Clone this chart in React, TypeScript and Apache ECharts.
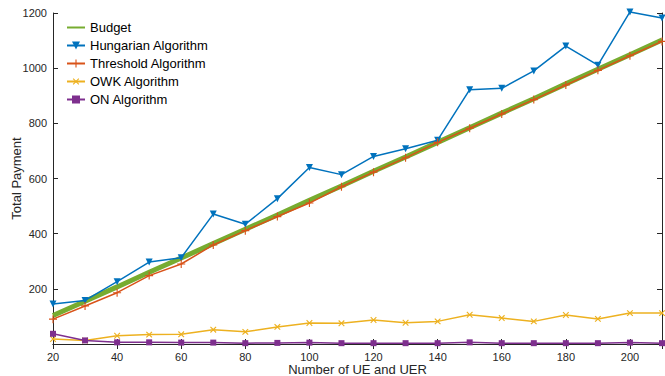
import React, { useEffect, useRef } from "react";
import * as echarts from "echarts";

const xValues = [20, 30, 40, 50, 60, 70, 80, 90, 100, 110, 120, 130, 140, 150, 160, 170, 180, 190, 200, 210];
const budget = [103, 155, 207, 260, 312, 364, 416, 468, 521, 573, 626, 678, 731, 784, 837, 889, 943, 996, 1049, 1102];
const hungarian = [145, 158, 226, 297, 313, 471, 434, 527, 640, 614, 680, 708, 739, 922, 927, 990, 1080, 1011, 1204, 1182];
const threshold = [90, 138, 186, 248, 290, 359, 411, 462, 511, 570, 623, 675, 731, 782, 834, 886, 939, 992, 1045, 1097];
const owk = [18, 13, 30, 34, 35, 52, 44, 62, 76, 75, 87, 77, 82, 106, 94, 82, 105, 91, 112, 112];
const on = [37, 13, 6, 6, 5, 5, 3, 4, 5, 3, 3, 3, 3, 6, 3, 3, 3, 3, 5, 3];

const seriesNames = ["Budget", "Hungarian Algorithm", "Threshold Algorithm", "OWK Algorithm", "ON Algorithm"];

const pair = (ys: number[]) => xValues.map((x, i) => [x, ys[i]]);

const PLUS = "path://M-0.14,-1H0.14V-0.14H1V0.14H0.14V1H-0.14V0.14H-1V-0.14H-0.14Z";

export default function App() {
  const ref = useRef<HTMLDivElement>(null);
  useEffect(() => {
    if (!ref.current) return;
    const chart = echarts.init(ref.current, null, { renderer: "svg" });
    const axisColor = "#262626";
    const font = "Liberation Sans";
    const axisCommon = {
      axisLine: { show: true, lineStyle: { color: axisColor, width: 1 } },
      axisTick: { show: true, inside: true, length: 5, lineStyle: { color: axisColor } },
      splitLine: { show: false },
    };
    chart.setOption({
      animation: false,
      textStyle: { fontFamily: font },
      grid: { left: 53, right: 3, top: 13, bottom: 32, containLabel: false, outerBoundsMode: "none" },
      legend: {
        orient: "vertical",
        left: 61,
        top: 16,
        itemWidth: 18,
        itemHeight: 10,
        itemGap: 5,
        data: [
          { name: seriesNames[0], itemStyle: { opacity: 0 } },
          seriesNames[1],
          seriesNames[2],
          seriesNames[3],
          seriesNames[4],
        ],
        textStyle: { fontFamily: font, fontSize: 13, color: "#000" },
      },
      xAxis: [
        {
          type: "value",
          min: 20,
          max: 210,
          interval: 20,
          name: "Number of UE and UER",
          nameLocation: "middle",
          nameGap: 19,
          nameMoveOverlap: false,
          nameTextStyle: { fontFamily: font, fontSize: 13, color: "#262626" },
          axisLabel: { showMaxLabel: false, fontSize: 11, color: "#262626", margin: 7 },
          ...axisCommon,
        },
        {
          type: "value",
          position: "top",
          min: 20,
          max: 210,
          interval: 20,
          axisLabel: { show: false },
          ...axisCommon,
        },
      ],
      yAxis: [
        {
          type: "value",
          min: 0,
          max: 1200,
          interval: 200,
          name: "Total Payment",
          nameLocation: "middle",
          nameGap: 30,
          nameMoveOverlap: false,
          nameTextStyle: { fontFamily: font, fontSize: 13, color: "#262626" },
          axisLabel: {
            showMinLabel: false,
            fontSize: 11,
            color: "#262626",
            margin: 6,
            formatter: (v: number) => String(v),
          },
          ...axisCommon,
        },
        {
          type: "value",
          position: "right",
          min: 0,
          max: 1200,
          interval: 200,
          axisLabel: { show: false },
          ...axisCommon,
        },
      ],
      series: [
        {
          name: seriesNames[0],
          type: "line",
          data: pair(budget),
          symbol: "none",
          lineStyle: { color: "#77AC30", width: 5 },
          itemStyle: { color: "#77AC30" },
        },
        {
          name: seriesNames[1],
          type: "line",
          data: pair(hungarian),
          symbol: "triangle",
          symbolRotate: 180,
          symbolSize: 7,
          clip: false,
          lineStyle: { color: "#0072BD", width: 1.5 },
          itemStyle: { color: "#0072BD" },
        },
        {
          name: seriesNames[2],
          type: "line",
          data: pair(threshold),
          symbol: PLUS,
          symbolSize: 8,
          lineStyle: { color: "#D95319", width: 1.5 },
          itemStyle: { color: "#D95319" },
        },
        {
          name: seriesNames[3],
          type: "line",
          data: pair(owk),
          symbol: PLUS,
          symbolRotate: 45,
          symbolSize: 8,
          lineStyle: { color: "#EDB120", width: 1.5 },
          itemStyle: { color: "#EDB120" },
        },
        {
          name: seriesNames[4],
          type: "line",
          data: pair(on),
          symbol: "rect",
          symbolSize: 6,
          lineStyle: { color: "#7E2F8E", width: 1.5 },
          itemStyle: { color: "#7E2F8E" },
        },
      ],
    });
    return () => chart.dispose();
  }, []);
  return <div ref={ref} style={{ width: 665, height: 376, position: "absolute", left: 0, top: 0 }} />;
}
